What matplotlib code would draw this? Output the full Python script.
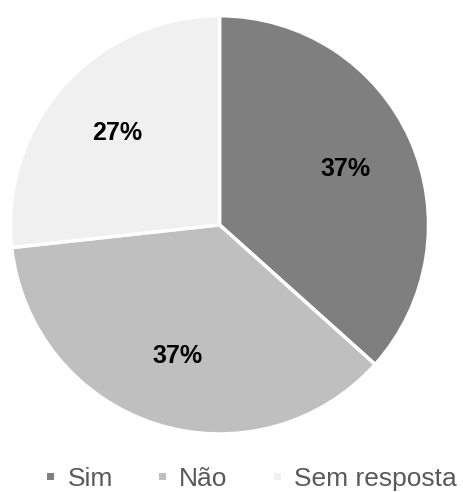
import matplotlib
matplotlib.use("Agg")
import matplotlib.pyplot as plt
from matplotlib.patches import Patch

categories = ["Sim", "Não", "Sem resposta"]
values = [37, 37, 27]
colors = ["#7f7f7f", "#bfbfbf", "#f0f0f0"]

fig = plt.figure(figsize=(4.64, 4.92), dpi=100)
ax = fig.add_axes([0.0226, 0.118, 0.901, 0.85])

wedges, texts, autotexts = ax.pie(
    values,
    colors=colors,
    startangle=90,
    counterclock=False,
    autopct="%.0f%%",
    pctdistance=0.66,
    wedgeprops=dict(edgecolor="white", linewidth=2.5),
    textprops=dict(fontsize=18, fontweight="bold", color="black",
                   family="Liberation Sans"),
)
ax.set_aspect("auto")
ax.set_xlim(-1, 1)
ax.set_ylim(-1, 1)

# small plain squares for the legend, no white outline
handles = [Patch(facecolor=c, edgecolor="none") for c in colors]
fig.legend(
    handles, categories,
    loc="center", bbox_to_anchor=(0.543, 0.026),
    ncol=3, frameon=False,
    prop=dict(family="Liberation Sans", size=19),
    handlelength=0.27, handleheight=0.03,
    handletextpad=0.5, columnspacing=1.75,
    labelcolor="#595959",
)

fig.savefig("out.png", dpi=100)
